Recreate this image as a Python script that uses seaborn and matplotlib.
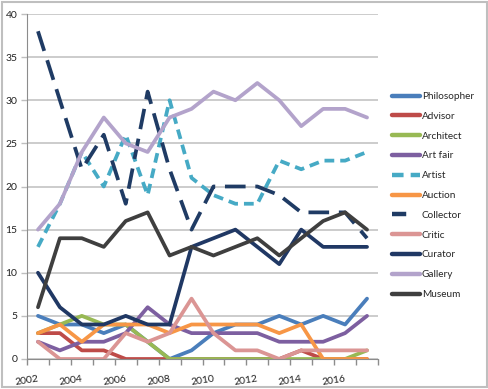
import numpy as np
import pandas as pd
import matplotlib
matplotlib.use("Agg")
import matplotlib.pyplot as plt
import seaborn as sns
from matplotlib.lines import Line2D
from matplotlib.patches import Rectangle

years = list(range(2002, 2018))

philosopher = [5, 4, 4, 3, 4, 2, 0, 1, 3, 4, 4, 5, 4, 5, 4, 7]
advisor     = [3, 3, 1, 1, 0, 0, 0, 0, 0, 0, 0, 0, 1, 0, 0, 0]
architect   = [3, 4, 5, 4, 4, 2, 0, 0, 0, 0, 0, 0, 0, 0, 0, 1]
art_fair    = [2, 1, 2, 2, 3, 6, 4, 3, 3, 3, 3, 2, 2, 2, 3, 5]
artist      = [13, 18, 24, 20, 26, 19, 30, 21, 19, 18, 18, 23, 22, 23, 23, 24]
auction     = [3, 4, 2, 4, 4, 4, 3, 4, 4, 4, 4, 3, 4, 0, 0, 0]
collector   = [38, 30, 22, 26, 18, 31, 22, 15, 20, 20, 20, 19, 17, 17, 17, 14]
critic      = [2, 0, 0, 0, 3, 2, 3, 7, 3, 1, 1, 0, 1, 1, 1, 1]
curator     = [10, 6, 4, 4, 5, 4, 4, 13, 14, 15, 13, 11, 15, 13, 13, 13]
gallery     = [15, 18, 24, 28, 25, 24, 28, 29, 31, 30, 32, 30, 27, 29, 29, 28]
museum      = [6, 14, 14, 13, 16, 17, 12, 13, 12, 13, 14, 12, 14, 16, 17, 15]

names = ["Philosopher", "Advisor", "Architect", "Art fair", "Artist", "Auction",
         "Collector", "Critic", "Curator", "Gallery", "Museum"]
series = [philosopher, advisor, architect, art_fair, artist, auction,
          collector, critic, curator, gallery, museum]
colors = ["#4A7EBB", "#BE4B48", "#98B954", "#7D5FA0", "#46AAC5", "#F79646",
          "#1F3B64", "#DB9594", "#203864", "#B3A3CB", "#3F3F3F"]
dash_map = {n: "" for n in names}
dash_map["Artist"] = (2.6, 1.6)
dash_map["Collector"] = (5.5, 2.6)

df = pd.DataFrame({
    "year": np.tile(years, len(names)),
    "value": np.concatenate(series),
    "role": np.repeat(names, len(years)),
})

sns.set_style("white")
plt.rcParams["font.family"] = ["Lato", "DejaVu Sans"]

fig = plt.figure(figsize=(4.89, 3.89), dpi=100)
ax = fig.add_axes([27 / 489, 30 / 389, 351 / 489, 345 / 389])

sns.lineplot(data=df, x="year", y="value", hue="role", style="role",
             palette=dict(zip(names, colors)), dashes=dash_map,
             hue_order=names, style_order=names, lw=2.7, ax=ax, legend=False)

ax.set_xlim(2001.5, 2017.5)
ax.set_ylim(0, 40)
ax.set_yticks(range(0, 41, 5))
ax.yaxis.grid(True, color="#BFBFBF", lw=1.1)
ax.xaxis.grid(False)
ax.set_axisbelow(True)
ax.set_xlabel("")
ax.set_ylabel("")

# category boundaries get the tick marks, every other year gets a label
ax.set_xticks(np.arange(2001.5, 2018, 1))
ax.set_xticklabels([])
ax.set_xticks(range(2002, 2018, 2), minor=True)
ax.set_xticklabels([str(y) for y in range(2002, 2018, 2)], minor=True,
                   rotation=9, ha="right", rotation_mode="anchor")
ax.tick_params(axis="x", which="major", length=4, width=1, color="#8C8C8C",
               direction="out", bottom=True)
ax.tick_params(axis="x", which="minor", length=0, pad=11, labelsize=7.5,
               labelcolor="#222222")
ax.tick_params(axis="y", length=4, width=1, color="#BFBFBF", direction="out",
               left=True, pad=3, labelsize=7.5, labelcolor="#222222")

for s in ["top", "right"]:
    ax.spines[s].set_visible(False)
ax.spines["left"].set_color("#8C8C8C")
ax.spines["bottom"].set_color("#8C8C8C")

handles = []
for n, c in zip(names, colors):
    d = dash_map[n]
    if n == "Collector":
        h = Line2D([0, 1], [0, 0], color=c, lw=3.2, linestyle=(0, (3.2, 10)))
    elif d:
        h = Line2D([0, 1], [0, 0], color=c, lw=3.2, linestyle=(0, d))
    else:
        h = Line2D([0, 1], [0, 0], color=c, lw=3.2)
    handles.append(h)
ax.legend(handles, names, loc="upper left", bbox_to_anchor=(392 / 489, 297 / 389),
          bbox_transform=fig.transFigure, frameon=False, fontsize=7.2,
          handlelength=2.8, handletextpad=0.2, labelspacing=1.08,
          borderpad=0, borderaxespad=0)

fig.patches.append(Rectangle((2 / 489, 2 / 389), 485 / 489, 385 / 389,
                             transform=fig.transFigure, fill=False,
                             edgecolor="#BFBFBF", lw=1.5))

fig.savefig("out.png", dpi=100)
